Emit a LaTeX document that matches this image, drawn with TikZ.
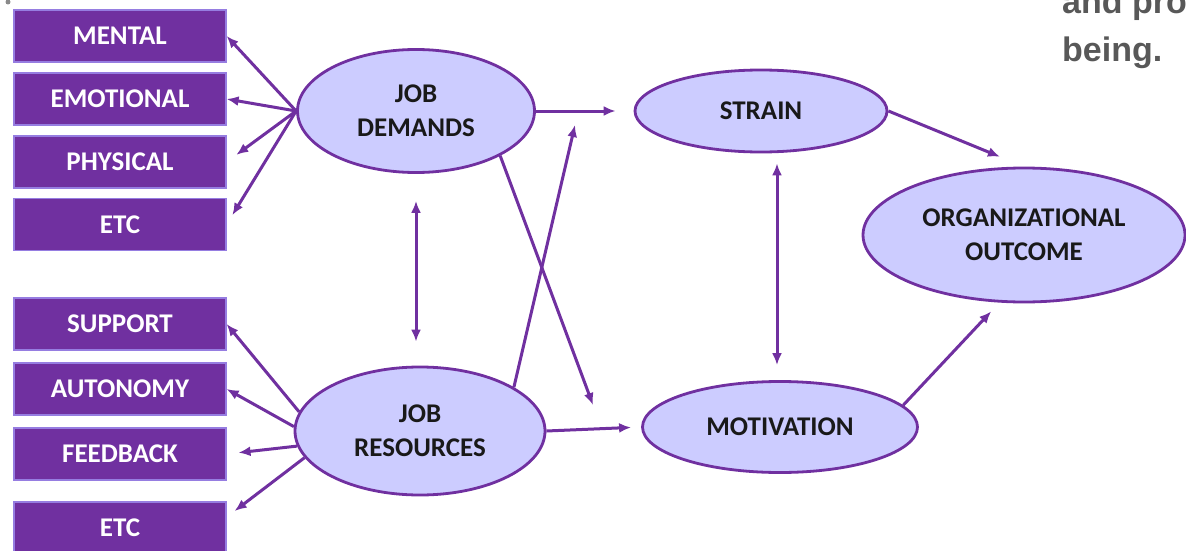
\documentclass[tikz,border=0pt]{standalone}
\usepackage{fontspec}
\setmainfont{Carlito}
\newfontfamily\notefont{Liberation Sans}
\usetikzlibrary{shapes.geometric,arrows.meta}
\definecolor{boxpurple}{RGB}{112,48,160}
\definecolor{boxedge}{RGB}{150,125,225}
\definecolor{ovalfill}{RGB}{204,204,255}
\definecolor{linepurple}{RGB}{112,48,160}
\definecolor{notegray}{RGB}{88,88,88}
\begin{document}
\begin{tikzpicture}[x=1pt,y=-1pt,
  factor/.style={rectangle, fill=boxpurple, draw=boxedge, line width=1.2pt, minimum width=212pt, minimum height=52pt, inner sep=0pt, text=white, font=\fontsize{27}{30}\selectfont\bfseries},
  oval/.style={ellipse, fill=ovalfill, draw=linepurple, line width=2.8pt, inner sep=0pt, align=center, text=black!90, font=\fontsize{27}{34}\selectfont\bfseries},
  arr/.style={-{Latex[length=12pt,width=10pt]}, draw=linepurple, line width=3pt},
  dbl/.style={{Latex[length=12pt,width=10pt]}-{Latex[length=12pt,width=10pt]}, draw=linepurple, line width=3pt}]
\useasboundingbox (0,0) rectangle (1186,551);

% Demand factors
\node[factor] (mental) at (120,36) {MENTAL};
\node[factor] (emotional) at (120,99) {EMOTIONAL};
\node[factor] (physical) at (120,162) {PHYSICAL};
\node[factor] (etcd) at (120,224.5) {ETC};

% Resource factors
\node[factor] (support) at (120,324) {SUPPORT};
\node[factor] (autonomy) at (120,389) {AUTONOMY};
\node[factor] (feedback) at (120,454) {FEEDBACK};
\node[factor] (etcr) at (120,528) {ETC};

% Model nodes
\node[oval, minimum width=237pt, minimum height=123pt] (jd) at (416,111) {JOB\\DEMANDS};
\node[oval, minimum width=250pt, minimum height=128pt] (jr) at (420,431) {JOB\\RESOURCES};
\node[oval, minimum width=252pt, minimum height=82pt] (strain) at (761,111) {STRAIN};
\node[oval, minimum width=275pt, minimum height=91pt] (motivation) at (780,427) {MOTIVATION};
\node[oval, minimum width=322pt, minimum height=134pt] (org) at (1024,235) {ORGANIZATIONAL\\OUTCOME};

% Free arrow ends
\coordinate (crossm) at (593,405);
\coordinate (crosss) at (575,125);
\coordinate (etcrtip) at ([xshift=8pt,yshift=17pt]etcr.east);

% Connections to factors
\draw[arr] (jd.west) -- (mental.east);
\draw[arr] (jd.west) -- (emotional.east);
\draw[arr, shorten >=12pt] (jd.west) -- (physical.east);
\draw[arr, shorten >=11pt] (jd.west) -- (etcd.east);
\draw[arr] (jr.171) -- (support.east);
\draw[arr] (jr.178) -- (autonomy.east);
\draw[arr, shorten >=12pt] (jr.187) -- (feedback.east);
\draw[arr] (jr.193) -- (etcrtip);

% Connections between model nodes
\draw[arr, shorten >=18pt] (jd.east) -- (strain.west);
\draw[arr, shorten >=10pt] (jr.east) -- (motivation.west);
\draw[arr] (jd.-28) -- (crossm);
\draw[arr] (jr.25) -- (crosss);
\draw[dbl, shorten <=27pt, shorten >=24pt] (jd.south) -- (jd.south |- jr.north);
\draw[dbl, shorten <=10pt, shorten >=15pt] ([xshift=16pt]strain.south) -- ([xshift=-3pt]motivation.north);
\draw[arr, shorten >=26pt] (strain.east) -- (org.north);
\draw[arr, shorten >=12pt] (motivation.10) -- (org.250);

% Cut-off text
\fill[notegray!70] (8,2) circle (2.5pt);
\node[anchor=base west, inner sep=0pt, text=notegray, font=\notefont\fontsize{34}{48}\selectfont\bfseries] (notea) at (1062,14) {and pro};
\node[anchor=base west, inner sep=0pt, text=notegray, font=\notefont\fontsize{34}{48}\selectfont\bfseries] (noteb) at (1062,62) {being.};
\end{tikzpicture}
\end{document}
